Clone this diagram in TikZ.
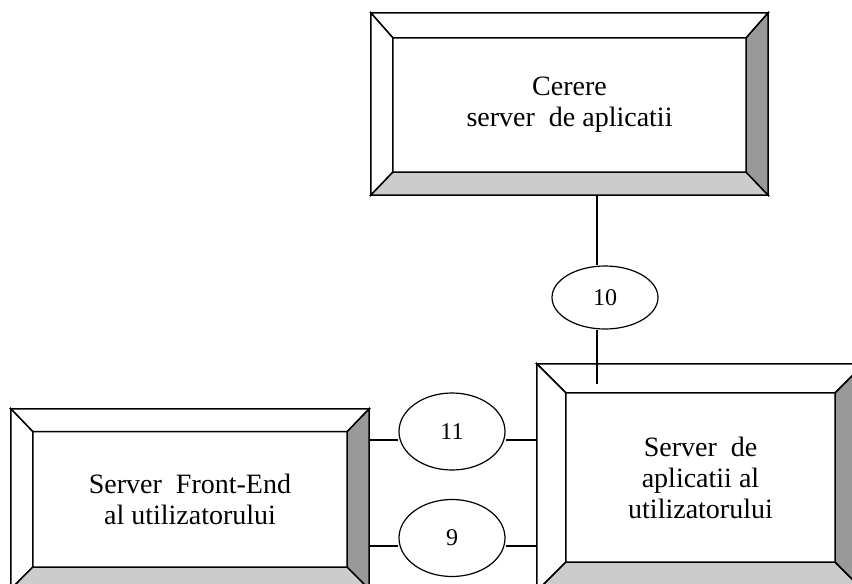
\documentclass[tikz,border=0pt]{standalone}
\usepackage{fontspec}
\setmainfont{Liberation Serif}
\usetikzlibrary{shapes.geometric}
\definecolor{bevelDark}{HTML}{999999}
\definecolor{bevelLight}{HTML}{CCCCCC}

\begin{document}
\begin{tikzpicture}[x=1pt, y=-1pt,
	outerBox/.style={rectangle, inner sep=0pt},
	innerBox/.style={rectangle, inner sep=0pt, align=center, font=\fontsize{28}{31}\selectfont},
	linkEllipse/.style={ellipse, inner sep=0pt, minimum width=106pt, line width=1.2pt, draw=black, fill=white, font=\fontsize{24}{28}\selectfont},
	bevel/.style={line width=1.5pt, draw=black, line join=miter},
	link/.style={line width=1.2pt}]

		\clip (0,0) rectangle (852,584);

		\node[outerBox, minimum width=397pt, minimum height=182pt](requestOuter) at (569.5,104){};
		\node[outerBox, minimum width=358pt, minimum height=180pt](frontEndOuter) at (190,499){};
		\node[outerBox, minimum width=327pt, minimum height=227pt](appServerOuter) at (700.5,477.5){};

		\node[innerBox, minimum width=353pt, minimum height=134pt](requestBox) at (569.5,105){Cerere\\server~~de aplicatii};
		\node[innerBox, minimum width=314pt, minimum height=135pt](frontEndBox) at (190,499.3){Server~~Front-End\\al utilizatorului};
		\node[innerBox, minimum width=269pt, minimum height=169pt](appServerBox) at (700.5,477.5){Server~~de\\aplicatii al\\utilizatorului};

		\foreach \name in {request, frontEnd, appServer}{
			\filldraw[bevel, fill=white] (\name Box.north west) -- (\name Outer.north west) -- (\name Outer.north east) -- (\name Box.north east) -- cycle;
			\filldraw[bevel, fill=white] (\name Box.north west) -- (\name Outer.north west) -- (\name Outer.south west) -- (\name Box.south west) -- cycle;
			\filldraw[bevel, fill=bevelLight] (\name Box.south west) -- (\name Outer.south west) -- (\name Outer.south east) -- (\name Box.south east) -- cycle;
			\filldraw[bevel, fill=bevelDark] (\name Box.north east) -- (\name Outer.north east) -- (\name Outer.south east) -- (\name Box.south east) -- cycle;
		}

		\node[linkEllipse, minimum height=63pt](link10) at (605,297.5){10};
		\node[linkEllipse, minimum height=77pt](link11) at (452,431.5){11};
		\node[linkEllipse, minimum height=77pt](link9) at (452,538){9};

		\coordinate (drop) at (597,384);
		\coordinate (row11) at (0,440);
		\coordinate (row9) at (0,546);

		\draw [link] (requestOuter.south -| drop) -- (link10.north -| drop);
		\draw [link] (link10.south -| drop) -- (drop);
		\draw [link] (frontEndOuter.east |- row11) -- (link11.west |- row11);
		\draw [link] (link11.east |- row11) -- (appServerOuter.west |- row11);
		\draw [link] (frontEndOuter.east |- row9) -- (link9.west |- row9);
		\draw [link] (link9.east |- row9) -- (appServerOuter.west |- row9);
	\end{tikzpicture}
\end{document}
